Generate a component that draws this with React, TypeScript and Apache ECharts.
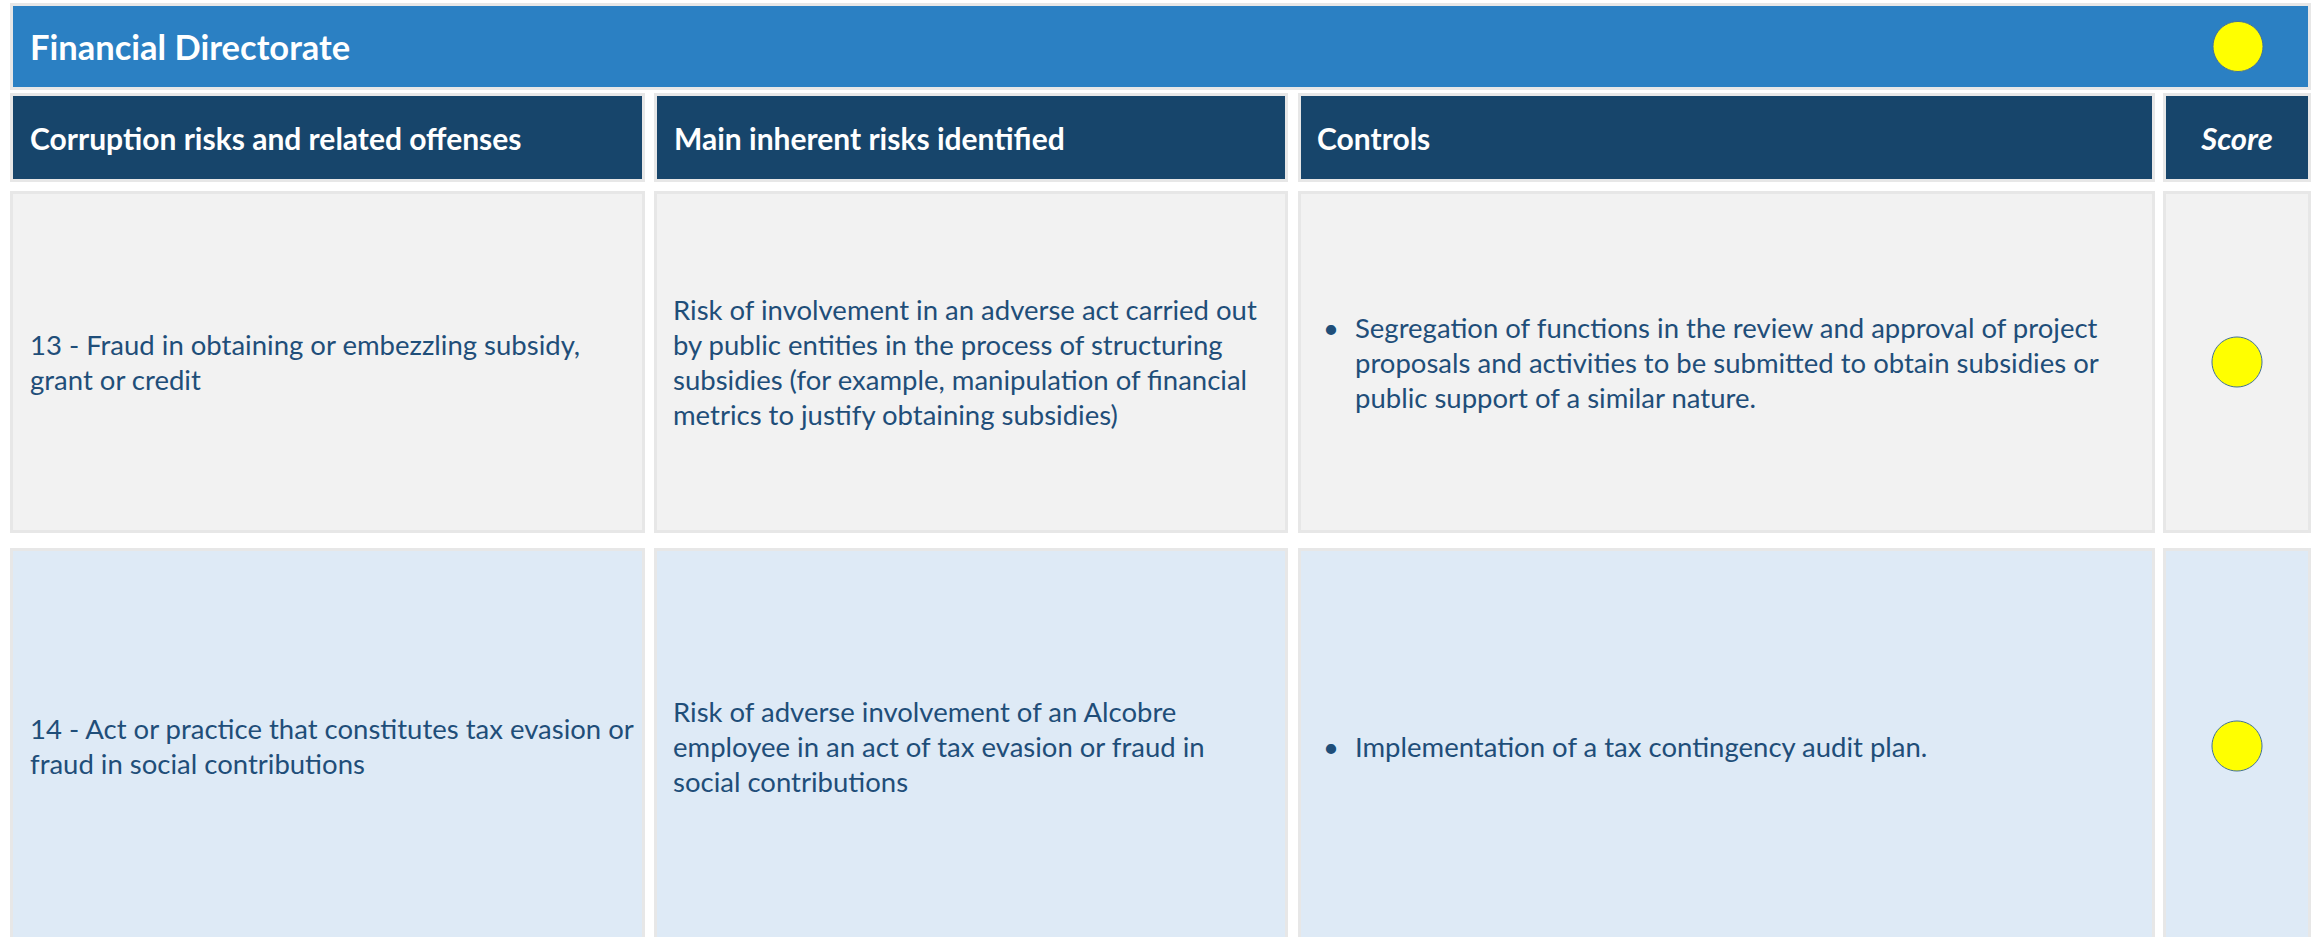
import { useEffect, useRef } from "react";
import * as echarts from "echarts";

// ---- data ----
const sectionTitle = "Financial Directorate";
const sectionScore = "yellow";
const headers = [
  "Corruption risks and related offenses",
  "Main inherent risks identified",
  "Controls",
  "Score",
];
const offenses = [
  "13 - Fraud in obtaining or embezzling subsidy,\ngrant or credit",
  "14 - Act or practice that constitutes tax evasion or\nfraud in social contributions",
];
const inherentRisks = [
  "Risk of involvement in an adverse act carried out\nby public entities in the process of structuring\nsubsidies (for example, manipulation of financial\nmetrics to justify obtaining subsidies)",
  "Risk of adverse involvement of an Alcobre\nemployee in an act of tax evasion or fraud in\nsocial contributions",
];
const controls = [
  "Segregation of functions in the review and approval of project\nproposals and activities to be submitted to obtain subsidies or\npublic support of a similar nature.",
  "Implementation of a tax contingency audit plan.",
];
const scores = ["yellow", "yellow"];

// ---- layout & style ----
const W = 2313;
const H = 937;
const cols: [number, number][] = [
  [10, 645],
  [654, 1288],
  [1298, 2155],
  [2163, 2311],
];
const titleBox: [number, number] = [3, 90];
const headerBox: [number, number] = [93, 182];
const rowBoxes: [number, number][] = [
  [191, 533],
  [548, 944],
];
const rowFills = ["#F2F2F2", "#DEEAF6"];
const scoreColors: Record<string, string> = { yellow: "#FFFF00" };
const FONT = "Lato, 'Open Sans', sans-serif";
const BODY_SIZE = 27.5;
const HEADER_SIZE = 30;
const TITLE_SIZE = 34.5;
const LINE_H = 35;
const TEXT_COLOR = "#1F4E79";
const BORDER = "#E7E7E7";

function cellRect(x0: number, x1: number, y0: number, y1: number, fill: string) {
  return {
    type: "rect",
    shape: { x: x0 + 1.5, y: y0 + 1.5, width: x1 - x0 - 3, height: y1 - y0 - 3 },
    style: { fill, stroke: BORDER, lineWidth: 3 },
    silent: true,
  };
}

function textEl(x: number, y: number, text: string, opts: any = {}) {
  return {
    type: "text",
    x,
    y,
    silent: true,
    style: {
      text,
      fill: opts.fill || TEXT_COLOR,
      fontFamily: FONT,
      fontSize: opts.fontSize || BODY_SIZE,
      fontWeight: opts.fontWeight || "normal",
      fontStyle: opts.fontStyle || "normal",
      align: opts.align || "left",
      verticalAlign: "middle",
      lineHeight: opts.lineHeight || LINE_H,
    },
  };
}

function scoreCircle(cx: number, cy: number, score: string) {
  return {
    type: "circle",
    shape: { cx, cy, r: 25 },
    style: { fill: scoreColors[score] || score, stroke: "#41719C", lineWidth: 1 },
    silent: true,
  };
}

function buildGraphics() {
  const els: any[] = [];
  // title bar
  els.push(cellRect(cols[0][0], cols[3][1], titleBox[0], titleBox[1], "#2B80C3"));
  els.push(
    textEl(30, (titleBox[0] + titleBox[1]) / 2, sectionTitle, {
      fill: "#FFFFFF",
      fontSize: TITLE_SIZE,
      fontWeight: "bold",
    })
  );
  els.push(scoreCircle(2238, (titleBox[0] + titleBox[1]) / 2, sectionScore));

  // headers
  const headerTextX = [30, 674, 1317];
  headers.forEach((h, i) => {
    const [x0, x1] = cols[i];
    els.push(cellRect(x0, x1, headerBox[0], headerBox[1], "#17456B"));
    const cy = (headerBox[0] + headerBox[1]) / 2;
    if (i < 3) {
      els.push(textEl(headerTextX[i], cy, h, { fill: "#FFFFFF", fontWeight: "bold", fontSize: HEADER_SIZE }));
    } else {
      els.push(
        textEl((x0 + x1) / 2, cy, h, {
          fill: "#FFFFFF",
          fontWeight: "bold",
          fontStyle: "italic",
          fontSize: 31,
          align: "center",
        })
      );
    }
  });

  // rows
  rowBoxes.forEach(([y0, y1], r) => {
    const fill = rowFills[r % rowFills.length];
    cols.forEach(([x0, x1]) => els.push(cellRect(x0, x1, y0, y1, fill)));
    const cy = (y0 + y1) / 2;
    els.push(textEl(30, cy, offenses[r]));
    els.push(textEl(673, cy, inherentRisks[r]));
    const nLines = controls[r].split("\n").length;
    const firstY = cy - ((nLines - 1) / 2) * LINE_H;
    els.push(textEl(1323, firstY, "\u2022"));
    els.push(textEl(1355, cy, controls[r]));
    els.push(scoreCircle((cols[3][0] + cols[3][1]) / 2, cy, scores[r]));
  });
  return els;
}

export default function App() {
  const ref = useRef<HTMLDivElement>(null);
  useEffect(() => {
    if (!ref.current) return;
    const chart = echarts.init(ref.current, undefined, { renderer: "svg" });
    chart.setOption({
      animation: false,
      backgroundColor: "#FFFFFF",
      graphic: { elements: buildGraphics() },
    });
    return () => chart.dispose();
  }, []);
  return (
    <div
      ref={ref}
      style={{ position: "absolute", left: 0, top: 0, width: W, height: H, background: "#fff" }}
    />
  );
}
